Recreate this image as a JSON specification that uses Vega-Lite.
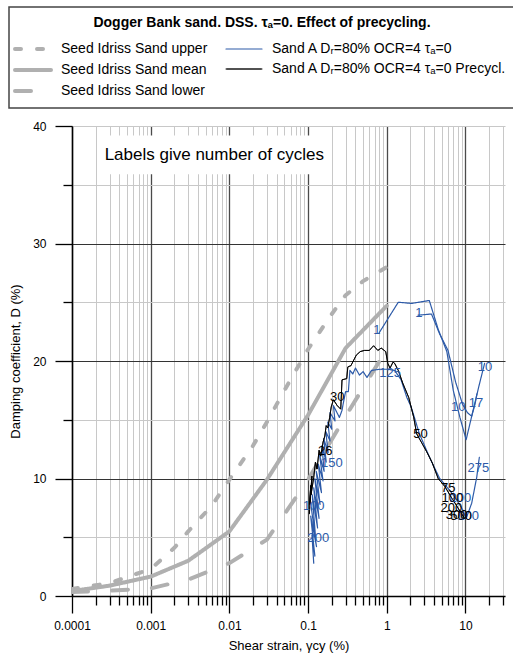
{
  "$schema": "https://vega.github.io/schema/vega-lite/v6.json",
  "width": 433,
  "height": 470,
  "autosize": {"type": "none"},
  "padding": {"left": 72, "top": 126, "right": 8, "bottom": 61},
  "config": {
    "font": "Liberation Sans",
    "view": {"stroke": null},
    "axis": {
      "labelFont": "Liberation Sans", "labelFontSize": 12, "labelColor": "#000",
      "titleFont": "Liberation Sans", "titleFontSize": 13, "titleFontWeight": "normal", "titleColor": "#000",
      "domainColor": "#000", "domainWidth": 1.5, "tickColor": "#000", "tickWidth": 1.3,
      "labelOverlap": false, "labelFlush": false
    }
  },
  "datasets": {
    "curves": [
      {"s": 0.0001, "d": 0.6, "g": "U", "c": "U"}, {"s": 0.0003, "d": 1.1, "g": "U", "c": "U"}, {"s": 0.001, "d": 2.3, "g": "U", "c": "U"}, {"s": 0.002, "d": 4.1, "g": "U", "c": "U"}, {"s": 0.003, "d": 5.5, "g": "U", "c": "U"}, {"s": 0.006, "d": 7.7, "g": "U", "c": "U"}, {"s": 0.01, "d": 9.9, "g": "U", "c": "U"}, {"s": 0.02, "d": 12.8, "g": "U", "c": "U"}, {"s": 0.03, "d": 14.8, "g": "U", "c": "U"}, {"s": 0.05, "d": 17.5, "g": "U", "c": "U"}, {"s": 0.1, "d": 21.0, "g": "U", "c": "U"}, {"s": 0.2, "d": 24.0, "g": "U", "c": "U"}, {"s": 0.3, "d": 25.6, "g": "U", "c": "U"}, {"s": 0.5, "d": 26.8, "g": "U", "c": "U"}, {"s": 1, "d": 28.0, "g": "U", "c": "U"},
      {"s": 0.0001, "d": 0.42, "g": "M", "c": "M"}, {"s": 0.0003, "d": 0.88, "g": "M", "c": "M"}, {"s": 0.001, "d": 1.65, "g": "M", "c": "M"}, {"s": 0.003, "d": 3.0, "g": "M", "c": "M"}, {"s": 0.01, "d": 5.5, "g": "M", "c": "M"}, {"s": 0.03, "d": 9.9, "g": "M", "c": "M"}, {"s": 0.1, "d": 15.4, "g": "M", "c": "M"}, {"s": 0.3, "d": 21.1, "g": "M", "c": "M"}, {"s": 1, "d": 24.7, "g": "M", "c": "M"},
      {"s": 0.0001, "d": 0.35, "g": "L", "c": "L"}, {"s": 0.0003, "d": 0.45, "g": "L", "c": "L"}, {"s": 0.001, "d": 0.65, "g": "L", "c": "L"}, {"s": 0.003, "d": 1.4, "g": "L", "c": "L"}, {"s": 0.01, "d": 2.8, "g": "L", "c": "L"}, {"s": 0.03, "d": 4.8, "g": "L", "c": "L"}, {"s": 0.1, "d": 9.9, "g": "L", "c": "L"}, {"s": 0.3, "d": 15.3, "g": "L", "c": "L"}, {"s": 1, "d": 21.0, "g": "L", "c": "L"},
      {"s": 0.118, "d": 2.8, "g": "A", "c": "A1"}, {"s": 0.112, "d": 5.2, "g": "A", "c": "A1"}, {"s": 0.122, "d": 3.4, "g": "A", "c": "A1"}, {"s": 0.108, "d": 6.8, "g": "A", "c": "A1"}, {"s": 0.128, "d": 4.2, "g": "A", "c": "A1"}, {"s": 0.11, "d": 7.5, "g": "A", "c": "A1"}, {"s": 0.125, "d": 4.8, "g": "A", "c": "A1"}, {"s": 0.113, "d": 8.6, "g": "A", "c": "A1"}, {"s": 0.132, "d": 5.8, "g": "A", "c": "A1"}, {"s": 0.118, "d": 9.2, "g": "A", "c": "A1"}, {"s": 0.138, "d": 6.6, "g": "A", "c": "A1"}, {"s": 0.122, "d": 10.0, "g": "A", "c": "A1"}, {"s": 0.142, "d": 7.8, "g": "A", "c": "A1"}, {"s": 0.127, "d": 10.6, "g": "A", "c": "A1"}, {"s": 0.148, "d": 8.8, "g": "A", "c": "A1"}, {"s": 0.135, "d": 11.2, "g": "A", "c": "A1"}, {"s": 0.155, "d": 9.8, "g": "A", "c": "A1"}, {"s": 0.14, "d": 12.0, "g": "A", "c": "A1"}, {"s": 0.16, "d": 10.6, "g": "A", "c": "A1"}, {"s": 0.15, "d": 12.8, "g": "A", "c": "A1"}, {"s": 0.17, "d": 11.4, "g": "A", "c": "A1"}, {"s": 0.158, "d": 13.4, "g": "A", "c": "A1"}, {"s": 0.18, "d": 12.2, "g": "A", "c": "A1"}, {"s": 0.168, "d": 14.0, "g": "A", "c": "A1"}, {"s": 0.19, "d": 13.2, "g": "A", "c": "A1"}, {"s": 0.178, "d": 14.8, "g": "A", "c": "A1"}, {"s": 0.2, "d": 14.2, "g": "A", "c": "A1"}, {"s": 0.19, "d": 15.6, "g": "A", "c": "A1"}, {"s": 0.22, "d": 14.9, "g": "A", "c": "A1"}, {"s": 0.21, "d": 16.2, "g": "A", "c": "A1"}, {"s": 0.25, "d": 15.2, "g": "A", "c": "A1"}, {"s": 0.27, "d": 15.8, "g": "A", "c": "A1"}, {"s": 0.28, "d": 16.4, "g": "A", "c": "A1"}, {"s": 0.3, "d": 17.4, "g": "A", "c": "A1"}, {"s": 0.325, "d": 17.4, "g": "A", "c": "A1"}, {"s": 0.34, "d": 19.2, "g": "A", "c": "A1"}, {"s": 0.37, "d": 18.9, "g": "A", "c": "A1"}, {"s": 0.4, "d": 19.4, "g": "A", "c": "A1"}, {"s": 0.45, "d": 18.8, "g": "A", "c": "A1"}, {"s": 0.5, "d": 19.1, "g": "A", "c": "A1"}, {"s": 0.56, "d": 18.6, "g": "A", "c": "A1"}, {"s": 0.64, "d": 19.2, "g": "A", "c": "A1"}, {"s": 0.82, "d": 19.3, "g": "A", "c": "A1"}, {"s": 1.03, "d": 19.3, "g": "A", "c": "A1"}, {"s": 1.26, "d": 19.2, "g": "A", "c": "A1"}, {"s": 1.52, "d": 18.4, "g": "A", "c": "A1"}, {"s": 1.8, "d": 16.9, "g": "A", "c": "A1"}, {"s": 2.04, "d": 16.1, "g": "A", "c": "A1"}, {"s": 2.6, "d": 13.8, "g": "A", "c": "A1"}, {"s": 3.5, "d": 11.8, "g": "A", "c": "A1"}, {"s": 4.7, "d": 10.0, "g": "A", "c": "A1"}, {"s": 6.3, "d": 9.0, "g": "A", "c": "A1"}, {"s": 7.7, "d": 8.2, "g": "A", "c": "A1"}, {"s": 9.3, "d": 7.3, "g": "A", "c": "A1"}, {"s": 10.2, "d": 6.6, "g": "A", "c": "A1"}, {"s": 12, "d": 7.9, "g": "A", "c": "A1"}, {"s": 13.9, "d": 10.1, "g": "A", "c": "A1"}, {"s": 15, "d": 11.8, "g": "A", "c": "A1"},
      {"s": 0.8, "d": 22.4, "g": "A", "c": "A2"}, {"s": 1.4, "d": 25.0, "g": "A", "c": "A2"}, {"s": 2.07, "d": 24.9, "g": "A", "c": "A2"}, {"s": 3.47, "d": 25.15, "g": "A", "c": "A2"}, {"s": 4.5, "d": 22.7, "g": "A", "c": "A2"}, {"s": 5.8, "d": 20.8, "g": "A", "c": "A2"}, {"s": 7.0, "d": 17.5, "g": "A", "c": "A2"}, {"s": 8.5, "d": 15.2, "g": "A", "c": "A2"}, {"s": 10.2, "d": 13.3, "g": "A", "c": "A2"}, {"s": 12.5, "d": 15.8, "g": "A", "c": "A2"}, {"s": 15, "d": 18.0, "g": "A", "c": "A2"}, {"s": 17.5, "d": 19.8, "g": "A", "c": "A2"},
      {"s": 2.5, "d": 23.9, "g": "A", "c": "A3"}, {"s": 3.7, "d": 24.0, "g": "A", "c": "A3"}, {"s": 4.7, "d": 22.3, "g": "A", "c": "A3"}, {"s": 6.0, "d": 20.9, "g": "A", "c": "A3"}, {"s": 7.5, "d": 18.2, "g": "A", "c": "A3"}, {"s": 9.2, "d": 16.3, "g": "A", "c": "A3"}, {"s": 10.6, "d": 15.6, "g": "A", "c": "A3"}, {"s": 12.0, "d": 15.3, "g": "A", "c": "A3"}, {"s": 13.2, "d": 16.3, "g": "A", "c": "A3"}, {"s": 14.0, "d": 17.2, "g": "A", "c": "A3"},
      {"s": 0.104, "d": 7.0, "g": "P", "c": "P"}, {"s": 0.108, "d": 9.4, "g": "P", "c": "P"}, {"s": 0.105, "d": 7.8, "g": "P", "c": "P"}, {"s": 0.112, "d": 10.2, "g": "P", "c": "P"}, {"s": 0.109, "d": 8.6, "g": "P", "c": "P"}, {"s": 0.118, "d": 10.1, "g": "P", "c": "P"}, {"s": 0.124, "d": 11.4, "g": "P", "c": "P"}, {"s": 0.13, "d": 10.8, "g": "P", "c": "P"}, {"s": 0.138, "d": 12.4, "g": "P", "c": "P"}, {"s": 0.145, "d": 11.9, "g": "P", "c": "P"}, {"s": 0.155, "d": 13.1, "g": "P", "c": "P"}, {"s": 0.163, "d": 13.6, "g": "P", "c": "P"}, {"s": 0.17, "d": 14.5, "g": "P", "c": "P"}, {"s": 0.178, "d": 14.3, "g": "P", "c": "P"}, {"s": 0.188, "d": 15.2, "g": "P", "c": "P"}, {"s": 0.197, "d": 16.1, "g": "P", "c": "P"}, {"s": 0.21, "d": 16.7, "g": "P", "c": "P"}, {"s": 0.235, "d": 16.2, "g": "P", "c": "P"}, {"s": 0.26, "d": 15.9, "g": "P", "c": "P"}, {"s": 0.27, "d": 18.4, "g": "P", "c": "P"}, {"s": 0.31, "d": 18.5, "g": "P", "c": "P"}, {"s": 0.32, "d": 19.5, "g": "P", "c": "P"}, {"s": 0.35, "d": 19.6, "g": "P", "c": "P"}, {"s": 0.41, "d": 20.5, "g": "P", "c": "P"}, {"s": 0.46, "d": 20.8, "g": "P", "c": "P"}, {"s": 0.52, "d": 20.9, "g": "P", "c": "P"}, {"s": 0.6, "d": 20.9, "g": "P", "c": "P"}, {"s": 0.68, "d": 21.3, "g": "P", "c": "P"}, {"s": 0.77, "d": 20.9, "g": "P", "c": "P"}, {"s": 0.85, "d": 21.1, "g": "P", "c": "P"}, {"s": 0.97, "d": 20.8, "g": "P", "c": "P"}, {"s": 1.03, "d": 19.8, "g": "P", "c": "P"}, {"s": 1.1, "d": 19.4, "g": "P", "c": "P"}, {"s": 1.2, "d": 19.9, "g": "P", "c": "P"}, {"s": 1.26, "d": 19.8, "g": "P", "c": "P"}, {"s": 1.4, "d": 19.2, "g": "P", "c": "P"}, {"s": 1.6, "d": 18.1, "g": "P", "c": "P"}, {"s": 1.9, "d": 16.9, "g": "P", "c": "P"}, {"s": 2.2, "d": 15.2, "g": "P", "c": "P"}, {"s": 2.4, "d": 13.8, "g": "P", "c": "P"}, {"s": 2.8, "d": 13.0, "g": "P", "c": "P"}, {"s": 3.2, "d": 12.3, "g": "P", "c": "P"}, {"s": 3.5, "d": 11.8, "g": "P", "c": "P"}, {"s": 3.8, "d": 11.3, "g": "P", "c": "P"}, {"s": 4.5, "d": 10.0, "g": "P", "c": "P"}, {"s": 5.5, "d": 9.3, "g": "P", "c": "P"}, {"s": 6.6, "d": 8.4, "g": "P", "c": "P"}, {"s": 7.7, "d": 7.7, "g": "P", "c": "P"}, {"s": 8.9, "d": 7.0, "g": "P", "c": "P"}, {"s": 9.8, "d": 6.6, "g": "P", "c": "P"}
    ],
    "labels": [
      {"s": 0.75, "d": 22.6, "t": "1", "g": "A"}, {"s": 2.55, "d": 24.1, "t": "1", "g": "A"}, {"s": 1.1, "d": 19.0, "t": "125", "g": "A"}, {"s": 17.7, "d": 19.5, "t": "10", "g": "A"}, {"s": 8.1, "d": 16.1, "t": "10", "g": "A"}, {"s": 13.6, "d": 16.4, "t": "17", "g": "A"}, {"s": 14.6, "d": 10.9, "t": "275", "g": "A"}, {"s": 0.2, "d": 11.3, "t": "150", "g": "A"}, {"s": 0.118, "d": 7.7, "t": "100", "g": "A"}, {"s": 0.135, "d": 4.9, "t": "200", "g": "A"}, {"s": 8.6, "d": 8.3, "t": "200", "g": "A"}, {"s": 10.8, "d": 6.8, "t": "100", "g": "A"},
      {"s": 0.235, "d": 16.9, "t": "30", "g": "P"}, {"s": 0.165, "d": 12.3, "t": "26", "g": "P"}, {"s": 2.68, "d": 13.8, "t": "50", "g": "P"}, {"s": 6.05, "d": 9.15, "t": "75", "g": "P"}, {"s": 6.8, "d": 8.3, "t": "100", "g": "P"}, {"s": 6.6, "d": 7.5, "t": "200", "g": "P"}, {"s": 7.7, "d": 6.9, "t": "300", "g": "P"}, {"s": 8.8, "d": 6.8, "t": "500", "g": "P"}
    ],
    "note": [{"s1": 0.000208, "s2": 0.18, "d1": 35.9, "d2": 39.2, "s": 0.00026, "d": 37.5, "t": "Labels give number of cycles"}]
  },
  "layer": [
    {
      "data": {"name": "note"},
      "mark": {"type": "rect", "fill": "#fff", "stroke": null},
      "encoding": {
        "x": {"field": "s1", "type": "quantitative", "scale": {"type": "log", "domain": [0.0001, 31.8], "nice": false}},
        "x2": {"field": "s2"},
        "y": {"field": "d1", "type": "quantitative", "scale": {"domain": [0, 40], "nice": false}},
        "y2": {"field": "d2"}
      }
    },
    {
      "data": {"name": "note"},
      "mark": {"type": "text", "align": "left", "baseline": "middle", "fontSize": 17, "font": "Liberation Sans", "color": "#000"},
      "encoding": {
        "x": {"field": "s", "type": "quantitative"},
        "y": {"field": "d", "type": "quantitative"},
        "text": {"field": "t"}
      }
    },
    {
      "data": {"name": "curves"},
      "mark": {"type": "line", "strokeCap": "round", "strokeJoin": "round", "clip": true},
      "encoding": {
        "x": {
          "field": "s", "type": "quantitative",
          "scale": {"type": "log", "domain": [0.0001, 31.8], "nice": false},
          "axis": {
            "title": "Shear strain, γcy (%)",
            "values": [0.0001, 0.0002, 0.0003, 0.0004, 0.0005, 0.0006, 0.0007, 0.0008, 0.0009, 0.001, 0.002, 0.003, 0.004, 0.005, 0.006, 0.007, 0.008, 0.009, 0.01, 0.02, 0.03, 0.04, 0.05, 0.06, 0.07, 0.08, 0.09, 0.1, 0.2, 0.3, 0.4, 0.5, 0.6, 0.7, 0.8, 0.9, 1, 2, 3, 4, 5, 6, 7, 8, 9, 10, 20, 30],
            "grid": true,
            "gridColor": {"condition": {"test": "indexof([0.0001,0.001,0.01,0.1,1,10], datum.value) >= 0", "value": "#4a4a4a"}, "value": "#c8c8c8"},
            "gridWidth": {"condition": {"test": "indexof([0.0001,0.001,0.01,0.1,1,10], datum.value) >= 0", "value": 1.3}, "value": 1},
            "tickSize": {"condition": {"test": "indexof([0.0001,0.001,0.01,0.1,1,10], datum.value) >= 0", "value": 17}, "value": 9},
            "labelExpr": "indexof([0.0001,0.001,0.01,0.1,1,10], datum.value) >= 0 ? format(datum.value, '~g') : ''",
            "labelPadding": 7,
            "titlePadding": 8
          }
        },
        "y": {
          "field": "d", "type": "quantitative",
          "scale": {"domain": [0, 40], "nice": false},
          "axis": {
            "title": "Damping coefficient, D (%)",
            "values": [0, 5, 10, 15, 20, 25, 30, 35, 40],
            "grid": true,
            "gridColor": {"condition": {"test": "datum.value % 10 === 0 && datum.value > 0 && datum.value < 40", "value": "#333"}, "value": "#c8c8c8"},
            "gridWidth": {"condition": {"test": "datum.value % 10 === 0 && datum.value > 0 && datum.value < 40", "value": 1.2}, "value": 1},
            "tickSize": {"condition": {"test": "datum.value % 10 === 0", "value": 17}, "value": 9},
            "labelExpr": "datum.value % 10 === 0 ? datum.label : ''",
            "labelPadding": 9,
            "titlePadding": 10
          }
        },
        "color": {
          "field": "g", "type": "nominal",
          "scale": {"domain": ["U", "M", "L", "A", "P"], "range": ["#b0b0b0", "#b0b0b0", "#b0b0b0", "#2c5aa8", "#000000"]},
          "legend": {
            "title": "Dogger Bank sand. DSS. τₐ=0. Effect of precycling.",
            "orient": "none", "legendX": -63, "legendY": -119,
            "columns": 2, "columnPadding": 15, "rowPadding": 5,
            "symbolType": "M-3,0H3", "symbolSize": 144, "symbolOffset": 7,
            "labelFont": "Liberation Sans", "labelFontSize": 14, "labelOffset": 20, "labelColor": "#000", "labelLimit": 400,
            "titleFont": "Liberation Sans", "titleFontSize": 14, "titleFontWeight": "bold", "titleAnchor": "middle", "titlePadding": 11, "titleColor": "#000", "titleLimit": 500,
            "padding": 9, "strokeColor": "#444", "fillColor": "#fff",
            "labelExpr": "datum.label == 'U' ? 'Seed Idriss Sand upper' : datum.label == 'M' ? 'Seed Idriss Sand mean' : datum.label == 'L' ? 'Seed Idriss Sand lower' : datum.label == 'A' ? 'Sand A Dᵣ=80% OCR=4 τₐ=0' : 'Sand A Dᵣ=80% OCR=4 τₐ=0 Precycl.'",
            "encode": {"legend": {"update": {"strokeWidth": {"value": 1.5}}}, "symbols": {"update": {"strokeCap": {"value": "round"}}}}
          }
        },
        "strokeDash": {
          "field": "g", "type": "nominal",
          "scale": {"domain": ["U", "M", "L", "A", "P"], "range": [[6, 16], [1, 0], [16, 24], [1, 0], [1, 0]]},
          "legend": {
            "title": "Dogger Bank sand. DSS. τₐ=0. Effect of precycling."
          }
        },
        "strokeWidth": {
          "field": "g", "type": "nominal",
          "scale": {"type": "ordinal", "domain": ["U", "M", "L", "A", "P"], "range": [4, 4, 4, 1.2, 1]},
          "legend": {
            "title": "Dogger Bank sand. DSS. τₐ=0. Effect of precycling."
          }
        },
        "detail": {"field": "c"},
        "order": {"value": null}
      }
    },
    {
      "data": {"name": "labels"},
      "transform": [{"filter": "datum.g == 'A'"}],
      "mark": {"type": "text", "fontSize": 13, "font": "Liberation Sans", "color": "#2c5aa8"},
      "encoding": {
        "x": {"field": "s", "type": "quantitative"},
        "y": {"field": "d", "type": "quantitative"},
        "text": {"field": "t"}
      }
    },
    {
      "data": {"name": "labels"},
      "transform": [{"filter": "datum.g == 'P'"}],
      "mark": {"type": "text", "fontSize": 13, "font": "Liberation Sans", "color": "#000"},
      "encoding": {
        "x": {"field": "s", "type": "quantitative"},
        "y": {"field": "d", "type": "quantitative"},
        "text": {"field": "t"}
      }
    }
  ]
}
